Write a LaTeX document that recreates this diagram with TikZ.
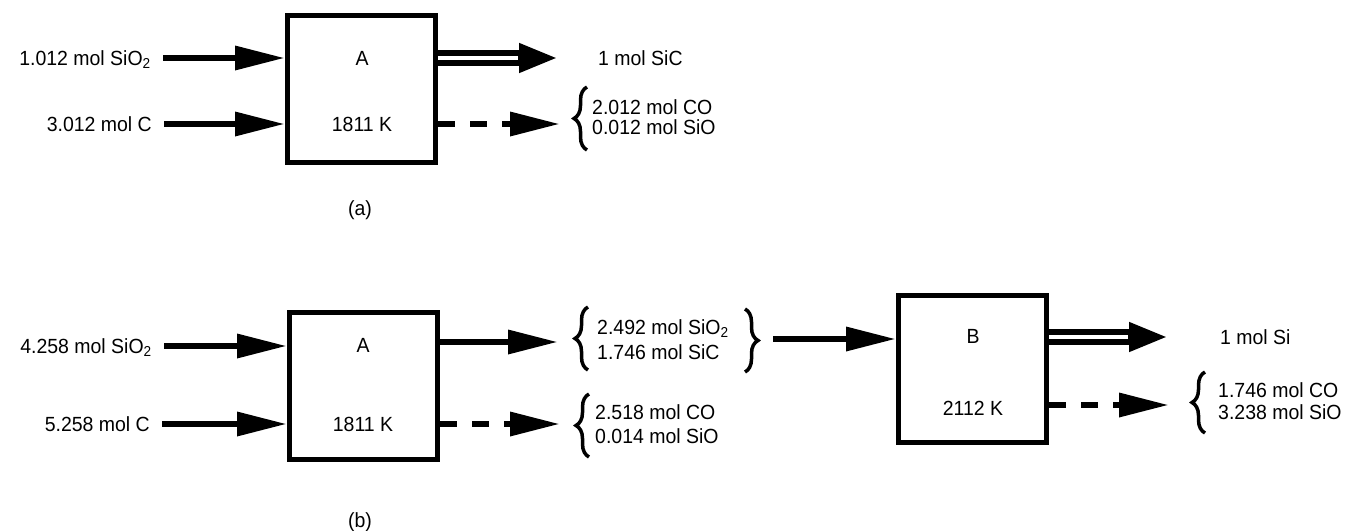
\documentclass[tikz,border=0pt]{standalone}
\usepackage{fontspec}
\setmainfont[FakeStretch=0.95]{Liberation Sans}
\usetikzlibrary{arrows.meta,decorations.pathreplacing,calc}
\begin{document}
\begin{tikzpicture}[x=1pt,y=-1pt,
  lbl/.style={font=\fontsize{20.5}{24}\selectfont, inner sep=0pt, text height=15pt, text depth=0pt},
  procbox/.style={draw, line width=5pt, minimum width=148pt, minimum height=147pt, inner sep=0pt},
  arr/.style={line width=6.5pt, -{Triangle[length=50pt,width=23pt]}},
  inarr/.style={arr, shorten <=12pt},
  dblarr/.style={line width=15.5pt, -{Triangle[length=39pt,width=27pt]}},
  dblgap/.style={white, line width=3.5pt},
  darr/.style={arr, dash pattern=on 17pt off 15pt},
  bracedeco/.style={decorate, decoration={brace, amplitude=13pt}, line width=3.5pt}
]
\useasboundingbox (0,0) rectangle (1348,530);

% ---------- (a) ----------
\node[lbl, anchor=east] (i1) at (151,58) {1.012 mol SiO\textsubscript{2}};
\node[lbl, anchor=east] (i2) at (152,124) {3.012 mol C};
\node[procbox] (A1) at (361.5,89) {};
\node[lbl] (a1) at (362,58) {A};
\node[lbl] (k1) at (362,124) {1811 K};
\node[lbl, anchor=west] (o1) at (598,58) {1 mol SiC};
\node[lbl, anchor=west] (o2) at (592,107) {2.012 mol CO};
\node[lbl, anchor=west] (o3) at (592,127) {0.012 mol SiO};
\node[lbl] (cap1) at (360,208) {(a)};

\draw[inarr] (i1.east) -- (i1.east -| A1.west);
\draw[inarr] (i2.east) -- (i2.east -| A1.west);
\draw[dblarr, shorten >=40pt] (A1.east |- o1.west) -- (o1.west);
\draw[dblgap, shorten >=80pt] (A1.east |- o1.west) -- (o1.west);
\coordinate (t1) at (560,124);
\draw[darr] (A1.east |- t1) -- (t1);
\draw[bracedeco] (587,150) -- (587,87);

% ---------- (b) ----------
\node[lbl, anchor=east] (i3) at (152,346) {4.258 mol SiO\textsubscript{2}};
\node[lbl, anchor=east] (i4) at (150,424) {5.258 mol C};
\node[procbox] (A2) at (363.5,386) {};
\node[lbl] (a2) at (363,345) {A};
\node[lbl] (k2) at (363,424) {1811 K};
\node[lbl, anchor=west] (p1) at (597,327) {2.492 mol SiO\textsubscript{2}};
\node[lbl, anchor=west] (p2) at (597,352) {1.746 mol SiC};
\node[lbl, anchor=west] (q1) at (595,412) {2.518 mol CO};
\node[lbl, anchor=west] (q2) at (595,436) {0.014 mol SiO};
\node[procbox] (B) at (972.5,369) {};
\node[lbl] (b1) at (973,336) {B};
\node[lbl] (k3) at (973,408) {2112 K};
\node[lbl, anchor=west] (r1) at (1220,337) {1 mol Si};
\node[lbl, anchor=west] (r2) at (1218,390) {1.746 mol CO};
\node[lbl, anchor=west] (r3) at (1218,412) {3.238 mol SiO};
\node[lbl] (cap2) at (360,520) {(b)};

\draw[inarr] (i3.east) -- (i3.east -| A2.west);
\draw[inarr] (i4.east) -- (i4.east -| A2.west);
\coordinate (t2) at (558,342);
\draw[arr] (A2.east |- t2) -- (t2);
\draw[bracedeco] (588,370) -- (588,307);
\draw[bracedeco] (745,309) -- (745,372);
\coordinate (s3) at (773,339);
\draw[arr] (s3) -- (s3 -| B.west);
\coordinate (t3) at (560,424);
\draw[darr] (A2.east |- t3) -- (t3);
\draw[bracedeco] (589,457) -- (589,394);
\draw[dblarr, shorten >=52pt] (B.east |- r1.west) -- (r1.west);
\draw[dblgap, shorten >=92pt] (B.east |- r1.west) -- (r1.west);
\coordinate (t4) at (1169,405);
\draw[darr] (B.east |- t4) -- (t4);
\draw[bracedeco] (1205,433) -- (1205,372);
\end{tikzpicture}
\end{document}
